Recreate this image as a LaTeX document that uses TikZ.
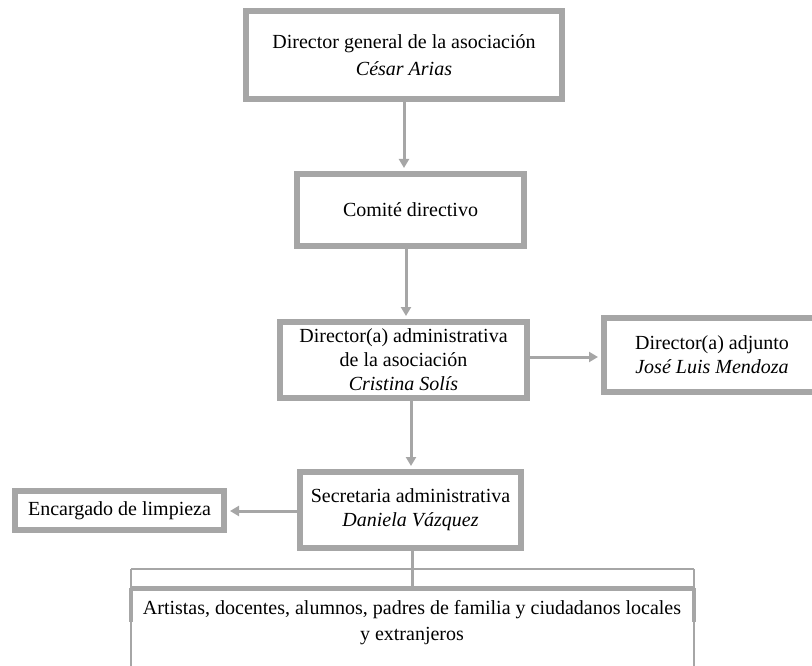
\documentclass[tikz,border=0pt]{standalone}
\usepackage{fontspec}
\setmainfont{Liberation Serif}
\usetikzlibrary{arrows.meta}
\definecolor{boxgray}{HTML}{A6A6A6}
\tikzset{
  orgbox/.style={draw=boxgray, line width=6pt, fill=white, align=center, inner sep=0pt,
    font=\fontsize{20}{24}\selectfont},
  conn/.style={draw=boxgray, line width=3pt, -{Triangle[length=9pt,width=10pt]}, shorten >=3pt},
  plainline/.style={draw=boxgray, line width=3pt},
  thinline/.style={draw=boxgray, line width=1.2pt},
  txt/.style={align=center, inner sep=0pt, font=\fontsize{20}{26}\selectfont}
}
\begin{document}
\begin{tikzpicture}[x=1pt,y=-1pt]
\useasboundingbox (0,0) rectangle (812,666);
\begin{scope}
\clip (0,0) rectangle (812,666);
% bottom frame
\draw[thinline] (131,569) -- (694,569);
\draw[thinline] (131,569) -- (131,680);
\draw[thinline] (694,569) -- (694,680);
\coordinate (barL) at (131,588);
\coordinate (barR) at (694,588);
\draw[draw=boxgray, line width=5pt] (barL) -- (barR);
\draw[draw=boxgray, line width=4pt] (barL) -- ++(0,34);
\draw[draw=boxgray, line width=4pt] (barR) -- ++(0,34);
\node[txt] (pub) at (412,623) {Artistas, docentes, alumnos, padres de familia y ciudadanos locales\\ y extranjeros};

\node[orgbox, minimum width=316pt, minimum height=88pt, font=\fontsize{20}{27}\selectfont] (gen) at (404,55)
  {Director general de la asociación\\ \textit{César Arias}};
\node[orgbox, minimum width=227pt, minimum height=72pt] (com) at (410.5,210) {Comité directivo};
\node[orgbox, minimum width=247pt, minimum height=76pt] (adm) at (403.5,360)
  {Director(a) administrativa\\ de la asociación\\ \textit{Cristina Solís}};
\node[orgbox, minimum width=216pt, minimum height=74pt] (adj) at (712,355)
  {Director(a) adjunto\\ \textit{José Luis Mendoza}};
\node[orgbox, minimum width=221pt, minimum height=76pt] (sec) at (410.5,510)
  {Secretaria administrativa\\ \textit{Daniela Vázquez}};
\node[orgbox, minimum width=209pt, minimum height=39pt] (enc) at (119.5,510.5) {Encargado de limpieza};

\coordinate (a1) at (404,102);
\coordinate (a2) at (406,249);
\coordinate (a3) at (411,401);
\coordinate (a4) at (412,551);
\draw[conn] (a1) -- (a1 |- com.north);
\draw[conn] (a2) -- (a2 |- adm.north);
\draw[conn] (a3) -- (a3 |- sec.north);
\draw[plainline] (a4) -- (a4 |- barL);
\draw[conn] (adm.east |- 0,357) -- (adj.west |- 0,357);
\draw[conn] (sec.west |- 0,511) -- (enc.east |- 0,511);
\end{scope}
\end{tikzpicture}
\end{document}
